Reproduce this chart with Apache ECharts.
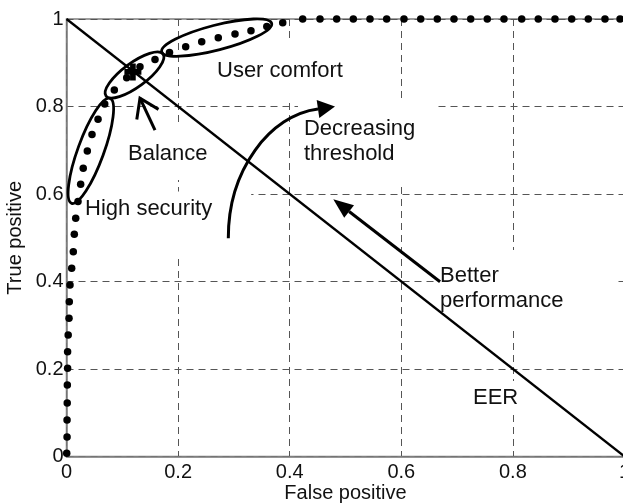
<!DOCTYPE html>
<html>
<head>
<meta charset="utf-8">
<script src="https://cdn.jsdelivr.net/npm/echarts@6/dist/echarts.min.js"></script>
<style>
  html, body { margin: 0; padding: 0; background: #fff; }
  #chart { width: 623px; height: 504px; }
</style>
</head>
<body>
<div id="chart"></div>
<script>
// ROC curve
const falsePositive = [
  0.0004, 0.001, 0.001, 0.0013, 0.0015, 0.002, 0.002, 0.003, 0.0045, 0.005,
  0.0063, 0.0093, 0.0122, 0.014, 0.0165, 0.0206, 0.0254, 0.030, 0.0373, 0.0457,
  0.0565, 0.0685, 0.0857, 0.1079, 0.1317, 0.1586, 0.1846, 0.2136, 0.2423, 0.272,
  0.302, 0.3306, 0.359, 0.3875, 0.4233, 0.4543, 0.4842, 0.514, 0.5439, 0.5738,
  0.6048, 0.6348, 0.6645, 0.6944, 0.7244, 0.7541, 0.784, 0.8158, 0.8455, 0.8754,
  0.9054, 0.9351, 0.965, 0.992
]
const truePositive = [
  0.0073, 0.0446, 0.0834, 0.1223, 0.1634, 0.2016, 0.2395, 0.2777, 0.3159, 0.3538,
  0.392, 0.4302, 0.4681, 0.5079, 0.5445, 0.5829, 0.6222, 0.6587, 0.6983, 0.736,
  0.7707, 0.8057, 0.8377, 0.8658, 0.891, 0.9077, 0.9237, 0.9367, 0.9481, 0.9573,
  0.9657, 0.9733, 0.9829, 0.9915, 1, 1, 1, 1, 1, 1,
  1, 1, 1, 1, 1, 1, 1, 1, 1, 1,
  1, 1, 1, 1
]
const tickLabels = ['0', '0.2', '0.4', '0.6', '0.8', '1']

// EER diagonal and balance point
const eerLine = [[0, 1], [1, 0]]
const balancePoint = [[0.119, 0.879]]

// ellipses around regions: [x1, y1, x2, y2] (ends of the long axis)
const regionEllipses = [
  [0.0093, 0.5787, 0.078, 0.8187],   // high security
  [0.0708, 0.824, 0.173, 0.920],     // balance
  [0.1706, 0.925, 0.3677, 0.990]     // user comfort
]
const ellipseHalfWidth = [13, 12, 12.5]

// arrows
const balanceArrow = [0.1586, 0.746, 0.1317, 0.819]              // tail, tip
const performanceArrow = [0.6694, 0.3995, 0.4781, 0.5879]        // tail, tip
const thresholdArrow = [0.29, 0.4987, 0.2894, 0.6549, 0.3647, 0.7806, 0.4507, 0.7943, 0.4812, 0.80] // start, c1, c2, end, tip

// annotations (top-left of the text)
const annotationText = ['User comfort', 'Balance', 'High security', 'Decreasing\nthreshold', 'Better\nperformance', 'EER']
const annotationPos = [
  [0.2697, 0.9097], [0.1102, 0.7211], [0.0332, 0.5943],
  [0.4256, 0.7771], [0.6694, 0.4423], [0.7285, 0.1634]
]
const annotationPad = [[16, 10, 16, 10], [14, 8, 14, 8], [5, 39, 33, 16], [16, 20, 16, 6], [13, 52, 15, 0], [4, 6, 4, 6]]

const FONT = "'Liberation Sans', Arial, sans-serif"
const chart = echarts.init(document.getElementById('chart'))

function headPoints(tip, from, len, half) {
  const dx = tip[0] - from[0], dy = tip[1] - from[1]
  const d = Math.hypot(dx, dy)
  const ux = dx / d, uy = dy / d
  const bx = tip[0] - ux * len, by = tip[1] - uy * len
  return {
    base: [bx, by],
    left: [bx - uy * half, by + ux * half],
    right: [bx + uy * half, by - ux * half]
  }
}

const option = {
  animation: false,
  backgroundColor: '#fff',
  grid: {
    left: 66.5, top: 19, width: 558, height: 437.5,
    containLabel: false, outerBoundsMode: 'none',
    show: true, borderColor: '#7f7f7f', borderWidth: 1.5
  },
  xAxis: {
    type: 'value', min: 0, max: 1, interval: 0.2,
    name: 'False positive', nameLocation: 'middle', nameGap: 27, nameMoveOverlap: false,
    nameTextStyle: { fontFamily: FONT, fontSize: 20, color: '#111' },
    axisLine: { lineStyle: { color: '#7f7f7f', width: 1.5 } },
    axisTick: { show: false },
    axisLabel: {
      margin: 6, fontFamily: FONT, fontSize: 20, color: '#111',
      formatter: (v, i) => tickLabels[i]
    },
    splitLine: { show: true, lineStyle: { color: '#555', width: 1, type: [7, 5] } }
  },
  yAxis: {
    type: 'value', min: 0, max: 1, interval: 0.2,
    name: 'True positive', nameLocation: 'middle', nameGap: 41, nameMoveOverlap: false,
    nameTextStyle: { fontFamily: FONT, fontSize: 20, color: '#111' },
    axisLine: { lineStyle: { color: '#7f7f7f', width: 1.5 } },
    axisTick: { show: false },
    axisLabel: {
      margin: 3, fontFamily: FONT, fontSize: 20, color: '#111',
      formatter: (v, i) => tickLabels[i]
    },
    splitLine: { show: true, lineStyle: { color: '#555', width: 1, type: [7, 5] } }
  },
  series: [
    {
      // annotation text with white boxes
      type: 'custom', z: 3, silent: true,
      data: annotationPos,
      renderItem: (params, api) => {
        const p = api.coord([api.value(0), api.value(1)])
        const pad = annotationPad[params.dataIndex]
        return {
          type: 'text',
          x: p[0] - pad[3], y: p[1] - pad[0],
          style: {
            text: annotationText[params.dataIndex],
            font: '22px ' + FONT, fill: '#111',
            lineHeight: 25, align: 'left', verticalAlign: 'top',
            backgroundColor: '#fff', padding: pad
          }
        }
      }
    },
    {
      type: 'line', z: 4, data: eerLine, symbol: 'none',
      lineStyle: { color: '#000', width: 2.3 }
    },
    {
      type: 'custom', z: 5, silent: true,
      data: regionEllipses,
      renderItem: (params, api) => {
        const a = api.coord([api.value(0), api.value(1)])
        const b = api.coord([api.value(2), api.value(3)])
        const dx = b[0] - a[0], dy = b[1] - a[1]
        return {
          type: 'ellipse',
          x: (a[0] + b[0]) / 2, y: (a[1] + b[1]) / 2,
          rotation: -Math.atan2(dy, dx),
          shape: { cx: 0, cy: 0, rx: Math.hypot(dx, dy) / 2, ry: ellipseHalfWidth[params.dataIndex] },
          style: { fill: 'none', stroke: '#000', lineWidth: 2.8 }
        }
      }
    },
    {
      type: 'scatter', z: 6, clip: false,
      data: falsePositive.map((x, i) => [x, truePositive[i]]),
      symbolSize: 7.5,
      itemStyle: { color: '#000', opacity: 1 }
    },
    {
      type: 'scatter', z: 6, clip: false,
      data: balancePoint,
      symbol: 'path://M5,0H10V5H15V10H10V15H5V10H0V5H5Z',
      symbolSize: 17,
      itemStyle: { color: '#000', opacity: 1 }
    },
    {
      // balance arrow, open head
      type: 'custom', z: 6, silent: true,
      data: [balanceArrow],
      renderItem: (params, api) => {
        const tail = api.coord([api.value(0), api.value(1)])
        const tip = api.coord([api.value(2), api.value(3)])
        const h = headPoints(tip, tail, 18, 12)
        const st = { stroke: '#000', lineWidth: 3, fill: 'none' }
        return {
          type: 'group', children: [
            { type: 'line', shape: { x1: tail[0], y1: tail[1], x2: tip[0], y2: tip[1] }, style: st },
            { type: 'polyline', shape: { points: [h.left, tip, h.right] }, style: st }
          ]
        }
      }
    },
    {
      // better performance arrow
      type: 'custom', z: 6, silent: true,
      data: [performanceArrow],
      renderItem: (params, api) => {
        const tail = api.coord([api.value(0), api.value(1)])
        const tip = api.coord([api.value(2), api.value(3)])
        const h = headPoints(tip, tail, 20, 8)
        return {
          type: 'group', children: [
            { type: 'line', shape: { x1: tail[0], y1: tail[1], x2: h.base[0], y2: h.base[1] }, style: { stroke: '#000', lineWidth: 3 } },
            { type: 'polygon', shape: { points: [h.left, tip, h.right] }, style: { fill: '#000' } }
          ]
        }
      }
    },
    {
      // decreasing threshold curved arrow
      type: 'custom', z: 6, silent: true,
      data: [thresholdArrow],
      renderItem: (params, api) => {
        const pt = k => api.coord([api.value(2 * k), api.value(2 * k + 1)])
        const s = pt(0), c1 = pt(1), c2 = pt(2), e = pt(3), tip = pt(4)
        const h = headPoints(tip, e, Math.hypot(tip[0] - e[0], tip[1] - e[1]), 9)
        return {
          type: 'group', children: [
            {
              type: 'bezierCurve',
              shape: { x1: s[0], y1: s[1], cpx1: c1[0], cpy1: c1[1], cpx2: c2[0], cpy2: c2[1], x2: e[0], y2: e[1] },
              style: { stroke: '#000', lineWidth: 3, fill: 'none' }
            },
            { type: 'polygon', shape: { points: [h.left, tip, h.right] }, style: { fill: '#000' } }
          ]
        }
      }
    }
  ]
}
chart.setOption(option)
</script>
</body>
</html>
